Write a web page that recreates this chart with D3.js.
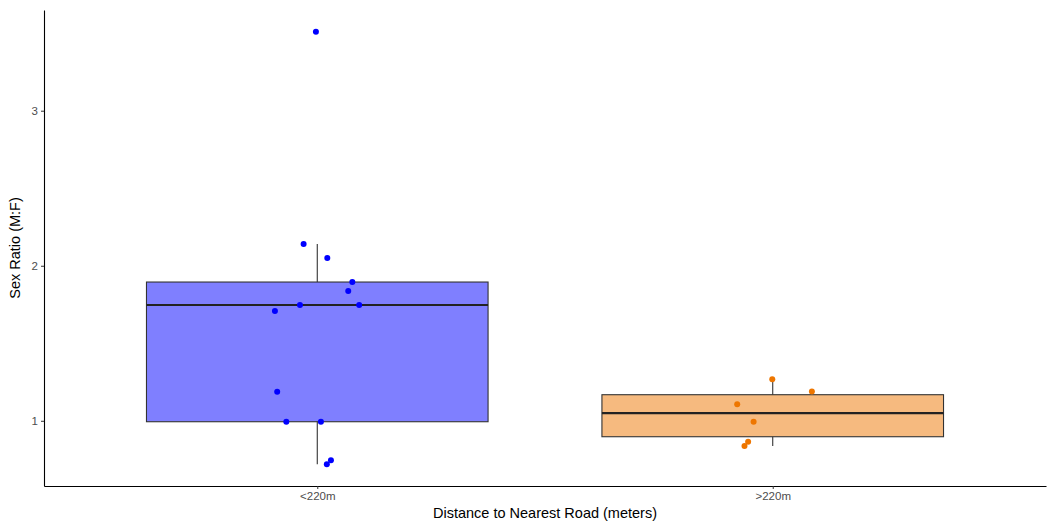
<!DOCTYPE html>
<html>
<head>
<meta charset="utf-8">
<script src="https://cdn.jsdelivr.net/npm/d3@7"></script>
<style>
  body { margin: 0; background: #fff; }
  svg { font-family: "Liberation Sans", Arial, sans-serif; }
</style>
</head>
<body>
<div id="chart"></div>
<script>
// groups on the x axis
const categories = ["<220m", ">220m"];
// sex ratio per site
const nearValues = [3.51, 2.14, 2.05, 1.895, 1.837, 1.747, 1.747, 1.708, 1.187, 0.994, 0.994, 0.745, 0.719];
const farValues = [1.268, 1.189, 1.106, 0.994, 0.865, 0.837];
// horizontal jitter of each point, in category units
const nearJitter = [-0.003, -0.030, 0.022, 0.077, 0.068, -0.038, 0.092, -0.093, -0.088, -0.068, 0.008, 0.030, 0.021];
const farJitter = [-0.001, 0.086, -0.078, -0.042, -0.054, -0.062];
const yTicks = [1, 2, 3];
const fillColors = ["#0000ff", "#ee7600"];

const groups = [
    {name: categories[0], values: nearValues, jitter: nearJitter, color: fillColors[0]},
    {name: categories[1], values: farValues, jitter: farJitter, color: fillColors[1]},
];

var width = 1050, height = 523;
var margin = {top: 10, right: 4, bottom: 37, left: 44};

var svg = d3.select("#chart")
    .append("svg")
    .attr("width", width)
    .attr("height", height);

// discrete scale with ggplot's 0.6 unit padding on both sides
var x = d3.scaleLinear()
    .domain([0.4, 2.6])
    .range([margin.left, width - margin.right]);
var unit = x(2) - x(1);

var all = nearValues.concat(farValues);
var lo = d3.min(all), hi = d3.max(all), pad = (hi - lo) * 0.05;
var y = d3.scaleLinear()
    .domain([lo - pad, hi + pad])
    .range([height - margin.bottom, margin.top]);

function stats(values) {
    let s = values.slice().sort(d3.ascending);
    let q1 = d3.quantile(s, 0.25), med = d3.quantile(s, 0.5), q3 = d3.quantile(s, 0.75);
    let iqr = q3 - q1;
    let lowW = d3.min(s.filter(v => v >= q1 - 1.5 * iqr));
    let highW = d3.max(s.filter(v => v <= q3 + 1.5 * iqr));
    return {q1, med, q3, lowW, highW};
}

var boxW = unit * 0.75;

groups.forEach((g, i) => {
    let cx = x(i + 1);
    let st = stats(g.values);
    let box = svg.append("g");

    // whiskers
    box.append("line")
        .attr("x1", cx).attr("x2", cx)
        .attr("y1", y(st.q3)).attr("y2", y(st.highW))
        .attr("stroke", "#333").attr("stroke-width", 1.1);
    box.append("line")
        .attr("x1", cx).attr("x2", cx)
        .attr("y1", y(st.q1)).attr("y2", y(st.lowW))
        .attr("stroke", "#333").attr("stroke-width", 1.1);

    box.append("rect")
        .attr("x", cx - boxW / 2)
        .attr("y", y(st.q3))
        .attr("width", boxW)
        .attr("height", y(st.q1) - y(st.q3))
        .attr("fill", g.color)
        .attr("fill-opacity", 0.5)
        .attr("stroke", "#333")
        .attr("stroke-width", 1.1);

    box.append("line")
        .attr("x1", cx - boxW / 2).attr("x2", cx + boxW / 2)
        .attr("y1", y(st.med)).attr("y2", y(st.med))
        .attr("stroke", "#222").attr("stroke-width", 2.2);

    // jittered points
    box.selectAll("circle")
        .data(g.values)
        .join("circle")
        .attr("cx", (d, j) => x(i + 1 + g.jitter[j]))
        .attr("cy", d => y(d))
        .attr("r", 3)
        .attr("fill", g.color);
});

// axes
var xAxis = svg.append("g")
    .attr("transform", "translate(0," + (height - margin.bottom) + ")")
    .call(d3.axisBottom(x).tickValues([1, 2]).tickFormat((d) => categories[d - 1]).tickSize(3).tickPadding(3).tickSizeOuter(0));
var yAxis = svg.append("g")
    .attr("transform", "translate(" + margin.left + ",0)")
    .call(d3.axisLeft(y).tickValues(yTicks).tickFormat(d3.format("d")).tickSize(3).tickPadding(3).tickSizeOuter(0));

[xAxis, yAxis].forEach(a => {
    a.select(".domain").attr("stroke", "#000").attr("stroke-width", 1.1);
    a.selectAll(".tick line").attr("stroke", "#333");
    a.selectAll(".tick text")
        .attr("fill", "#4d4d4d")
        .style("font-size", "11.5px")
        .style("font-family", "'Liberation Sans', Arial, sans-serif");
});

svg.append("text")
    .attr("x", (margin.left + width - margin.right) / 2)
    .attr("y", height - 5)
    .attr("text-anchor", "middle")
    .style("font-size", "14.5px")
    .text("Distance to Nearest Road (meters)");

svg.append("text")
    .attr("transform", "translate(20," + ((margin.top + height - margin.bottom) / 2) + ") rotate(-90)")
    .attr("text-anchor", "middle")
    .style("font-size", "14.5px")
    .text("Sex Ratio (M:F)");
</script>
</body>
</html>
